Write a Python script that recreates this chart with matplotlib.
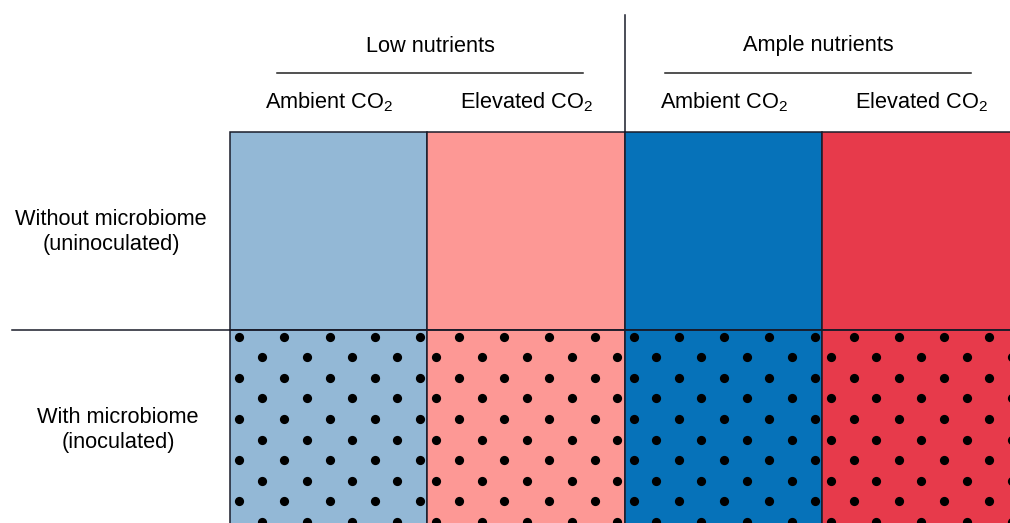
import matplotlib
matplotlib.use('Agg')
import matplotlib.pyplot as plt
import matplotlib.patches as patches
import numpy as np

plt.rcParams['font.family'] = ['Liberation Sans', 'DejaVu Sans']
plt.rcParams['mathtext.fontset'] = 'custom'
plt.rcParams['mathtext.rm'] = 'Liberation Sans'
plt.rcParams['mathtext.it'] = 'Liberation Sans:italic'

# data
nutrients = ['Low nutrients', 'Ample nutrients']
co2 = ['Ambient CO$_2$', 'Elevated CO$_2$']
rows = ['Without microbiome\n(uninoculated)', 'With microbiome\n(inoculated)']
col_colors = ['#93b8d6', '#fd9895', '#0672b9', '#e73a4b']
row_dotted = [False, True]

# layout (pixels)
left0 = 230
col_w = 197.3
top0 = 132
row_h = 198
edge = '#1a1c2a'
fs = 15.7
head_shift = [3, -4]   # header groups are not quite centred over their cells

fig = plt.figure(figsize=(10.1, 5.23), dpi=100)
ax = fig.add_axes([0, 0, 1, 1])
ax.set_xlim(0, 1010)
ax.set_ylim(523, 0)
ax.axis('off')

# cells
for r, dotted in enumerate(row_dotted):
    y0 = top0 + r * row_h
    for c, col in enumerate(col_colors):
        x0 = left0 + c * col_w
        ax.add_patch(patches.Rectangle((x0, y0), col_w, row_h + (10 if r == 1 else 0),
                                       facecolor=col, edgecolor=edge, lw=1.1, zorder=1))
        if dotted:
            # dot texture, phase flips every other column
            offs = [9, 31.6] if c % 2 == 0 else [31.6, 9]
            xs, ys = [], []
            k = 0
            y = y0 + 6.5
            while y < 530:
                x = x0 + offs[k % 2]
                while x <= x0 + col_w - 4:
                    xs.append(x)
                    ys.append(y)
                    x += 45.25
                y += 20.6
                k += 1
            ax.scatter(xs, ys, s=44, c='black', linewidths=0, zorder=2)

# separators
ax.plot([12, 1010], [top0 + row_h, top0 + row_h], color=edge, lw=1.1, zorder=3)
ax.plot([left0 + 2 * col_w, left0 + 2 * col_w], [15, top0], color=edge, lw=1.1, zorder=3)

# headers
for i, nut in enumerate(nutrients):
    cx = left0 + (2 * i + 1) * col_w + head_shift[i]
    ax.text(cx, 46, nut, ha='center', va='center', fontsize=fs)
    ax.plot([cx - 153, cx + 153], [73, 73], color='#222222', lw=1.1)
    for j, lab in enumerate(co2):
        ccx = left0 + (2 * i + j + 0.5) * col_w
        ax.text(ccx + 1, 102, lab, ha='center', va='center', fontsize=fs)

label_x = [111, 118]
for r, lab in enumerate(rows):
    ax.text(label_x[r], top0 + r * row_h + 100, lab, ha='center', va='center',
            fontsize=fs, linespacing=1.2)

fig.savefig('out.png', dpi=100)
